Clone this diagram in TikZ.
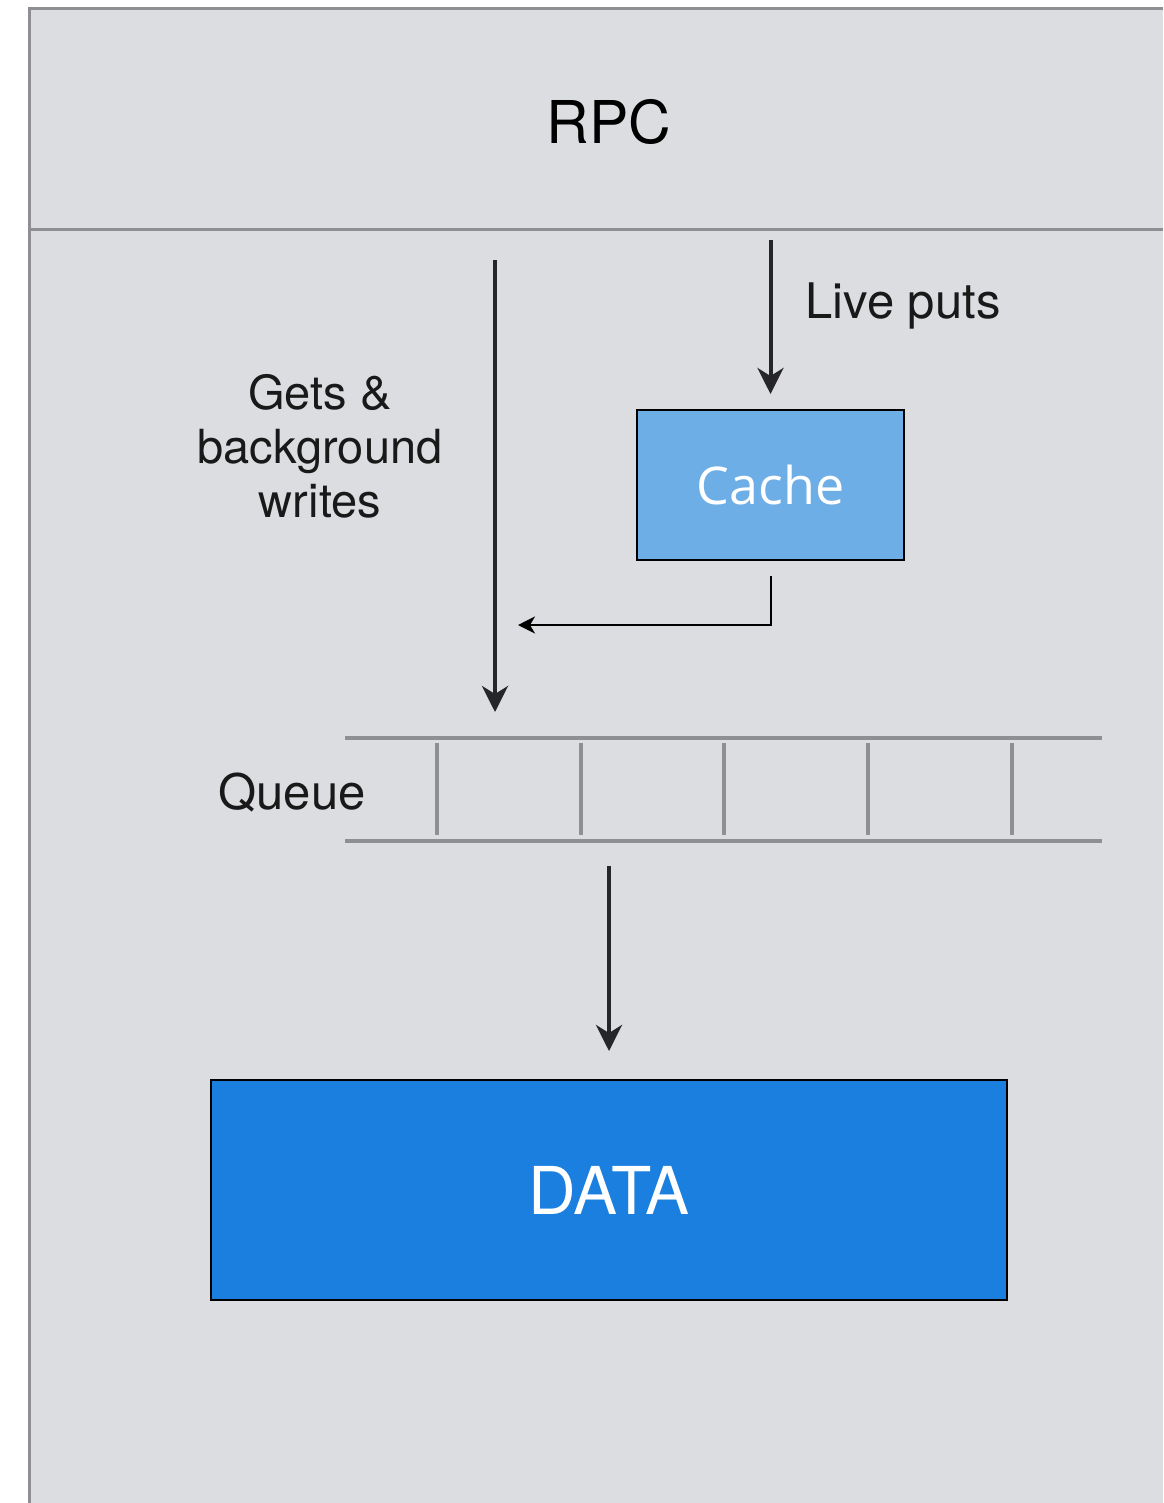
\documentclass[tikz,border=0pt]{standalone}
\usepackage{fontspec}
\setmainfont{TeX Gyre Heros}
\newfontfamily\cachefont{Open Sans}
\usetikzlibrary{arrows.meta}
\definecolor{panel}{HTML}{DCDDE0}
\definecolor{rulegray}{HTML}{8E8F93}
\definecolor{ink}{HTML}{262628}
\definecolor{cachefill}{HTML}{6DAEE6}
\definecolor{datafill}{HTML}{1A7FDF}
\tikzset{
  bigarrow/.style={draw=ink, line width=2pt, -{Stealth[length=13pt,width=13pt,inset=4pt]}},
  thinarrow/.style={draw=black, line width=1pt, -{Stealth[length=8.5pt,width=8.5pt,inset=2.5pt]}},
  queueline/.style={draw=rulegray, line width=2pt},
  label/.style={inner sep=0pt, font=\fontsize{23.5}{27}\selectfont, text=black!90},
  box/.style={draw=black, line width=1pt, inner sep=0pt}
}
\begin{document}
\begin{tikzpicture}[x=0.5pt,y=-0.5pt]
\useasboundingbox (0,0) rectangle (1163,1503);
\fill[white] (0,0) rectangle (1163,1503);
% panel
\fill[panel] (29,9) rectangle (1163,1503);
\draw[rulegray, line width=1.5pt] (29,1503) -- (29,9) -- (1163,9);
\draw[rulegray, line width=1.5pt] (29,230) -- (1163,230);
\node[inner sep=0pt, font=\fontsize{29.5}{34}\selectfont] (rpc) at (609,122) {RPC};

% cache
\node[box, fill=cachefill, minimum width=133.5pt, minimum height=75pt,
      text=white, font=\cachefont\fontsize{26}{31}\selectfont] (cache) at (770.5,485) {Cache};
\coordinate (livetop) at (770.5,240);
\draw[bigarrow, shorten >=7.5pt] (livetop) -- (cache.north);
\node[label, anchor=base west, font=\fontsize{24.5}{28}\selectfont] (live) at (805,318) {Live puts};

% gets and background writes
\coordinate (getstop) at (495,260);
\coordinate (getsend) at (495,712);
\draw[bigarrow] (getstop) -- (getsend);
\node[label, align=center, text depth=0pt] (gets) at (320,446)
  {\fontsize{23.5}{27}\selectfont Gets \&\\ background\\ writes};

% cache flush back into the write path
\coordinate (flushend) at (518,625);
\draw[thinarrow] ([yshift=-7.5pt]cache.south) |- (flushend);

% queue
\draw[queueline] (345,738) coordinate (qtl) -- (1102,738) coordinate (qtr);
\draw[queueline] (345,841) coordinate (qbl) -- (1102,841) coordinate (qbr);
\foreach \x in {437,581,724,868,1012}
  \draw[queueline] (\x,743) -- (\x,835);
\node[label, anchor=base, font=\fontsize{24.5}{28}\selectfont] (queue) at (292,809) {Queue};

% data store
\node[box, fill=datafill, minimum width=398pt, minimum height=110pt,
      text=white, font=\fontsize{33}{38}\selectfont] (data) at (609,1190) {DATA};
\coordinate (qout) at (609,866);
\draw[bigarrow, shorten >=14pt] (qout) -- (data.north);
\end{tikzpicture}
\end{document}
